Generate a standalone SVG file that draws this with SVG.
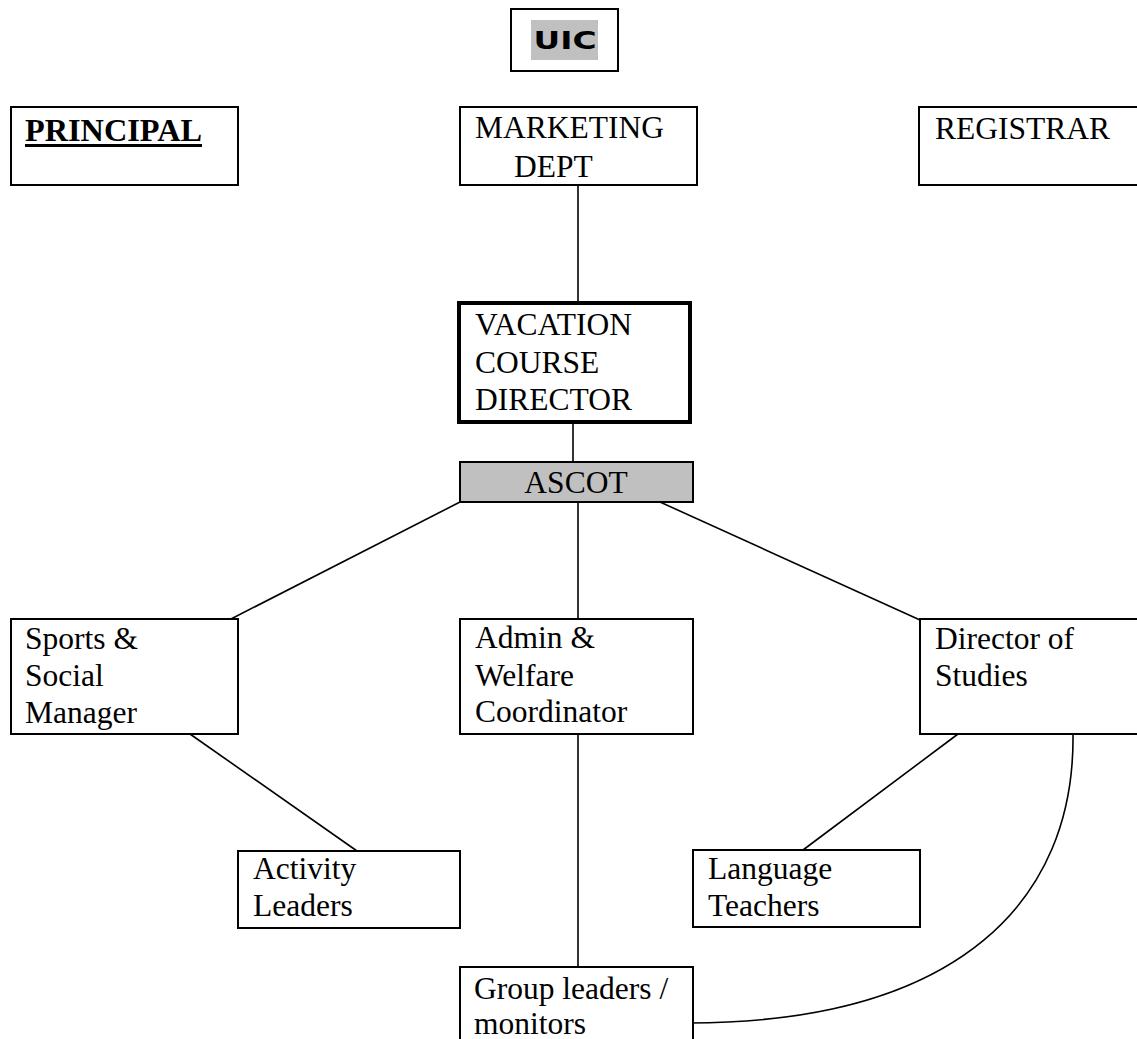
<svg xmlns="http://www.w3.org/2000/svg" width="1137" height="1039" viewBox="0 0 1137 1039">
<style>
.box{fill:#fff;stroke:#000;stroke-width:2}
.t{font-family:"Liberation Serif","Times New Roman",serif;font-size:31.5px;fill:#000}
.c{stroke:#000;stroke-width:1.6;fill:none}
</style>
<rect width="1137" height="1039" fill="#fff"/>
<g id="connectors">
<line class="c" x1="578" y1="185" x2="578" y2="301"/>
<line class="c" x1="573" y1="424" x2="573" y2="462"/>
<line class="c" x1="460" y1="502" x2="229" y2="620"/>
<line class="c" x1="578" y1="502" x2="578" y2="619"/>
<line class="c" x1="660" y1="502" x2="920" y2="620"/>
<line class="c" x1="190" y1="734" x2="357" y2="851"/>
<line class="c" x1="958" y1="734" x2="803" y2="850"/>
<line class="c" x1="578" y1="734" x2="578" y2="967"/>
<path class="c" d="M1073,734 C1075,900 960,1022 690,1023"/>
</g>
<g id="uic">
<rect x="511" y="9" width="107" height="62" class="box"/>
<rect x="531" y="20" width="67" height="40" fill="#c0c0c0"/>
<text x="565" y="49" text-anchor="middle" font-family="'DejaVu Sans',Verdana,sans-serif" font-weight="bold" font-size="25" textLength="63" lengthAdjust="spacingAndGlyphs">UIC</text>
</g>
<g id="principal">
<rect x="11" y="107" width="227" height="78" class="box"/>
<text x="25" y="141" class="t" font-weight="bold" font-size="31.5" textLength="177" lengthAdjust="spacingAndGlyphs">PRINCIPAL</text>
<rect x="25" y="144" width="177" height="3" fill="#000"/>
</g>
<g id="marketing">
<rect x="460" y="107" width="237" height="78" class="box"/>
<text x="475" y="138" class="t">MARKETING</text>
<text x="514" y="177" class="t">DEPT</text>
</g>
<g id="registrar">
<rect x="919" y="107" width="230" height="78" class="box"/>
<text x="935" y="139" class="t">REGISTRAR</text>
</g>
<g id="vcd">
<rect x="459" y="303" width="231" height="119" fill="#fff" stroke="#000" stroke-width="4"/>
<text x="475" y="335" class="t">VACATION</text>
<text x="475" y="373" class="t">COURSE</text>
<text x="475" y="410" class="t">DIRECTOR</text>
</g>
<g id="ascot">
<rect x="460" y="462" width="233" height="40" fill="#c0c0c0" stroke="#000" stroke-width="2"/>
<text x="576" y="493" class="t" text-anchor="middle">ASCOT</text>
</g>
<g id="sports">
<rect x="11" y="619" width="227" height="115" class="box"/>
<text x="25" y="649" class="t">Sports &amp;</text>
<text x="25" y="686" class="t">Social</text>
<text x="25" y="723" class="t">Manager</text>
</g>
<g id="admin">
<rect x="460" y="619" width="233" height="115" class="box"/>
<text x="475" y="648" class="t">Admin &amp;</text>
<text x="475" y="686" class="t">Welfare</text>
<text x="475" y="722" class="t">Coordinator</text>
</g>
<g id="dos">
<rect x="920" y="619" width="230" height="115" class="box"/>
<text x="935" y="649" class="t">Director of</text>
<text x="935" y="686" class="t">Studies</text>
</g>
<g id="activity">
<rect x="238" y="851" width="222" height="77" class="box"/>
<text x="253" y="879" class="t">Activity</text>
<text x="253" y="916" class="t">Leaders</text>
</g>
<g id="language">
<rect x="693" y="850" width="227" height="77" class="box"/>
<text x="708" y="879" class="t">Language</text>
<text x="708" y="916" class="t">Teachers</text>
</g>
<g id="group">
<rect x="460" y="967" width="233" height="90" class="box"/>
<text x="474" y="999" class="t">Group leaders /</text>
<text x="474" y="1034" class="t">monitors</text>
</g>
</svg>
